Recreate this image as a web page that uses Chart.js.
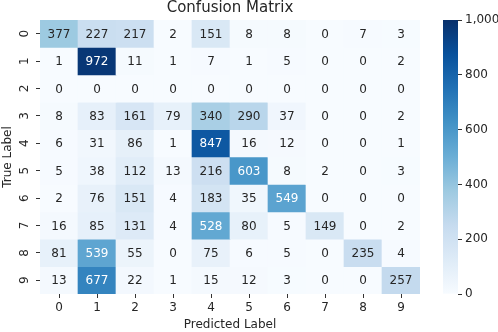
<!DOCTYPE html>
<html>
<head>
<meta charset="utf-8">
<script src="https://cdn.jsdelivr.net/npm/chart.js@4.4.0/dist/chart.umd.min.js"></script>
<style>
    html, body { margin: 0; padding: 0; background: #fff; }
    #wrap { position: relative; width: 498px; height: 332px; }
    #main { position: absolute; left: 0; top: 0; width: 440px; height: 332px; }
    #bar { position: absolute; left: 440px; top: 0; width: 58px; height: 332px; }
</style>
</head>
<body>
<div id="wrap">
    <div id="main"><canvas id="chartMatrix"></canvas></div>
    <div id="bar"><canvas id="chartColorbar"></canvas></div>
</div>
<script>
// ============= DATA =============
const predictedLabels = ['0', '1', '2', '3', '4', '5', '6', '7', '8', '9'];
const trueLabels = ['0', '1', '2', '3', '4', '5', '6', '7', '8', '9'];

const row0 = [377, 227, 217, 2, 151, 8, 8, 0, 7, 3];
const row1 = [1, 972, 11, 1, 7, 1, 5, 0, 0, 2];
const row2 = [0, 0, 0, 0, 0, 0, 0, 0, 0, 0];
const row3 = [8, 83, 161, 79, 340, 290, 37, 0, 0, 2];
const row4 = [6, 31, 86, 1, 847, 16, 12, 0, 0, 1];
const row5 = [5, 38, 112, 13, 216, 603, 8, 2, 0, 3];
const row6 = [2, 76, 151, 4, 183, 35, 549, 0, 0, 0];
const row7 = [16, 85, 131, 4, 528, 80, 5, 149, 0, 2];
const row8 = [81, 539, 55, 0, 75, 6, 5, 0, 235, 4];
const row9 = [13, 677, 22, 1, 15, 12, 3, 0, 0, 257];
const matrix = [row0, row1, row2, row3, row4, row5, row6, row7, row8, row9];

const vmin = 0;
const vmax = 1000;
const colorbarTicks = [0, 200, 400, 600, 800, 1000];

// matplotlib "Blues"
const bluesStops = ['#f7fbff', '#deebf7', '#c6dbef', '#9ecae1', '#6baed6',
                    '#4292c6', '#2171b5', '#08519c', '#08306b'];

const TITLE = 'Confusion Matrix';
const TEXT_COLOR = '#262626';
const TICK_COLOR = '#333333';

Chart.defaults.font.family = '"DejaVu Sans", sans-serif';
Chart.defaults.font.size = 12;
Chart.defaults.color = TEXT_COLOR;

// ============= COLOR HELPERS =============

function hexToRgb(hex) {
    const n = parseInt(hex.slice(1), 16);
    return [(n >> 16) & 255, (n >> 8) & 255, n & 255];
}

function bluesRgb(v) {
    let t = (v - vmin) / (vmax - vmin);
    t = Math.max(0, Math.min(1, t));
    const pos = t * (bluesStops.length - 1);
    const k = Math.min(Math.floor(pos), bluesStops.length - 2);
    const f = pos - k;
    const a = hexToRgb(bluesStops[k]);
    const b = hexToRgb(bluesStops[k + 1]);
    return a.map((c, i) => Math.round(c + (b[i] - c) * f));
}

function bluesColor(v) {
    const [r, g, b] = bluesRgb(v);
    return `rgb(${r}, ${g}, ${b})`;
}

// same rule seaborn uses for annotation colour
function luminance(rgb) {
    const lin = rgb.map(c => {
        c = c / 255;
        return c <= 0.03928 ? c / 12.92 : Math.pow((c + 0.055) / 1.055, 2.4);
    });
    return 0.2126 * lin[0] + 0.7152 * lin[1] + 0.0722 * lin[2];
}

// ============= PLUGINS =============

const cellText = {
    id: 'cellText',
    afterDatasetsDraw(chart) {
        const { ctx, scales: { x, y } } = chart;
        ctx.save();
        ctx.font = '12px "DejaVu Sans", sans-serif';
        ctx.textAlign = 'center';
        ctx.textBaseline = 'middle';
        matrix.forEach((row, i) => {
            row.forEach((v, j) => {
                ctx.fillStyle = luminance(bluesRgb(v)) > 0.408 ? TEXT_COLOR : '#ffffff';
                ctx.fillText(String(v), x.getPixelForValue(j), y.getPixelForValue(i) + 1);
            });
        });
        ctx.restore();
    }
};

// title centred over the heatmap itself, not the whole canvas
const plotTitle = {
    id: 'plotTitle',
    afterDraw(chart) {
        const { ctx, chartArea } = chart;
        ctx.save();
        ctx.font = '15px "DejaVu Sans", sans-serif';
        ctx.fillStyle = TEXT_COLOR;
        ctx.textAlign = 'center';
        ctx.textBaseline = 'middle';
        ctx.fillText(TITLE, (chartArea.left + chartArea.right) / 2, chartArea.top - 12);
        ctx.restore();
    }
};

const tickGrid = {
    display: true,
    drawOnChartArea: false,
    drawTicks: true,
    tickLength: 4,
    tickWidth: 1,
    tickColor: TICK_COLOR,
    offset: false
};

// ============= MATRIX CHART =============

const datasets = matrix.map((row, i) => ({
    label: trueLabels[i],
    data: row.map(() => [i - 0.5, i + 0.5]),
    backgroundColor: row.map(v => bluesColor(v)),
    borderWidth: 0,
    barPercentage: 1,
    categoryPercentage: 1,
    grouped: false
}));

new Chart(document.getElementById('chartMatrix'), {
    type: 'bar',
    data: { labels: predictedLabels, datasets: datasets },
    options: {
        responsive: true,
        maintainAspectRatio: false,
        animation: false,
        layout: { padding: { top: 20, right: 20, bottom: 0, left: 0 } },
        plugins: {
            legend: { display: false },
            tooltip: { enabled: false },
            title: { display: false }
        },
        scales: {
            x: {
                type: 'category',
                offset: true,
                grid: tickGrid,
                border: { display: false },
                ticks: { color: TEXT_COLOR, padding: 3, maxRotation: 0 },
                title: {
                    display: true,
                    text: 'Predicted Label',
                    color: TEXT_COLOR,
                    padding: { top: 0, bottom: 0 }
                },
                afterFit(scale) { scale.height = 38; }
            },
            y: {
                type: 'linear',
                reverse: true,
                min: -0.5,
                max: 9.5,
                afterBuildTicks(scale) {
                    scale.ticks = trueLabels.map((_, i) => ({ value: i }));
                },
                grid: tickGrid,
                border: { display: false },
                ticks: {
                    color: TEXT_COLOR,
                    padding: 7,
                    minRotation: 90,
                    maxRotation: 90,
                    crossAlign: 'center',
                    callback: (value) => trueLabels[value]
                },
                title: {
                    display: true,
                    text: 'True Label',
                    color: TEXT_COLOR,
                    padding: { top: 1, bottom: 0 }
                },
                afterFit(scale) { scale.width = 40; }
            }
        }
    },
    plugins: [cellText, plotTitle]
});

// ============= COLORBAR =============

new Chart(document.getElementById('chartColorbar'), {
    type: 'bar',
    data: {
        labels: [''],
        datasets: [{
            data: [[vmin, vmax]],
            backgroundColor(c) {
                const { chartArea, ctx } = c.chart;
                if (!chartArea) return bluesStops[0];
                const g = ctx.createLinearGradient(0, chartArea.bottom, 0, chartArea.top);
                bluesStops.forEach((col, k) => g.addColorStop(k / (bluesStops.length - 1), col));
                return g;
            },
            borderWidth: 0,
            barPercentage: 1,
            categoryPercentage: 1
        }]
    },
    options: {
        responsive: true,
        maintainAspectRatio: false,
        animation: false,
        layout: { padding: { top: 20, right: 0, bottom: 38, left: 3 } },
        plugins: {
            legend: { display: false },
            tooltip: { enabled: false }
        },
        scales: {
            x: { display: false },
            y: {
                position: 'right',
                min: vmin,
                max: vmax,
                afterBuildTicks(scale) {
                    scale.ticks = colorbarTicks.map(v => ({ value: v }));
                },
                grid: tickGrid,
                border: { display: false },
                ticks: { color: TEXT_COLOR, padding: 3 },
                afterFit(scale) { scale.width = 40; }
            }
        }
    }
});
</script>
</body>
</html>
